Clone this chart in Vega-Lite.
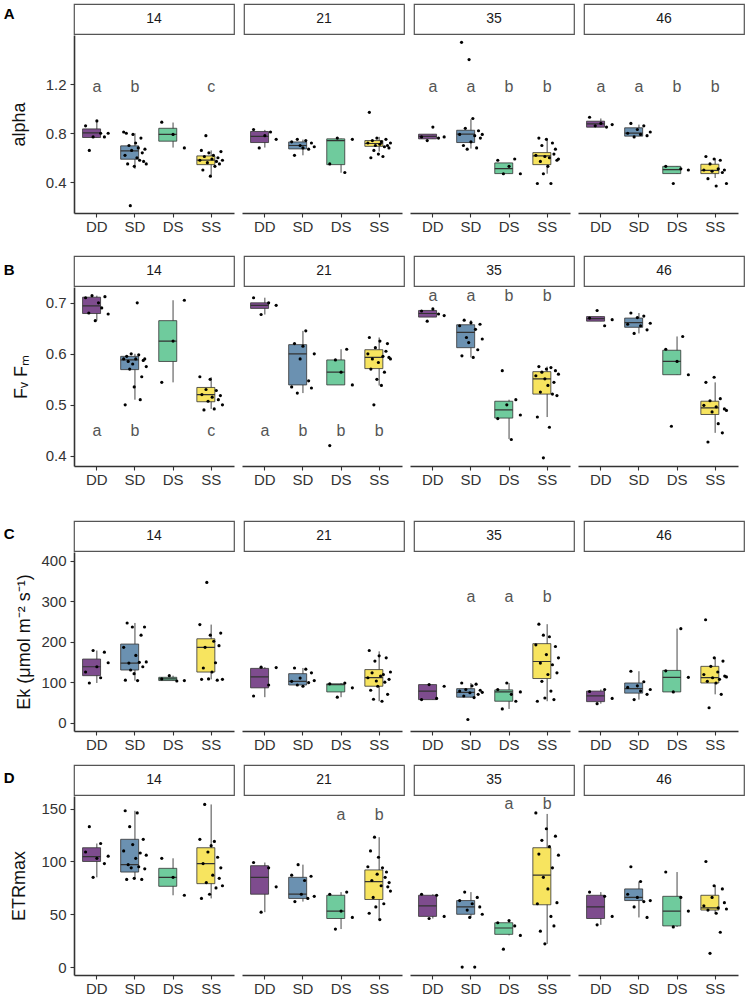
{
"$schema":"https://vega.github.io/schema/vega-lite/v6.json",
"background":"white",
"padding":{"left":3,"top":3,"right":0,"bottom":0},
"config":{"font":"Liberation Sans","view":{"stroke":null},
"axis":{"grid":false,"domainColor":"#333","domainWidth":1.6,"tickColor":"#333","tickSize":4,"tickWidth":1.1,"labelColor":"#333","labelFontSize":15,"labelPadding":4,"titleFontSize":18,"titleFontWeight":"normal","titleColor":"#111"},
"axisX":{"labelPadding":2}},
"datasets":{"d":[
{"p":"A","d":"14","t":"DD","lo":0.765,"q1":0.765,"m":0.803,"q3":0.835,"hi":0.898},
{"p":"A","d":"14","t":"SD","lo":0.51,"q1":0.588,"m":0.656,"q3":0.697,"hi":0.8},
{"p":"A","d":"14","t":"DS","lo":0.683,"q1":0.735,"m":0.79,"q3":0.84,"hi":0.887},
{"p":"A","d":"14","t":"SS","lo":0.457,"q1":0.544,"m":0.58,"q3":0.615,"hi":0.66},
{"p":"A","d":"21","t":"DD","lo":0.683,"q1":0.724,"m":0.775,"q3":0.814,"hi":0.827},
{"p":"A","d":"21","t":"SD","lo":0.62,"q1":0.672,"m":0.7,"q3":0.729,"hi":0.748},
{"p":"A","d":"21","t":"DS","lo":0.478,"q1":0.544,"m":0.74,"q3":0.754,"hi":0.756},
{"p":"A","d":"21","t":"SS","lo":0.65,"q1":0.693,"m":0.716,"q3":0.74,"hi":0.77},
{"p":"A","d":"35","t":"DD","lo":0.754,"q1":0.754,"m":0.775,"q3":0.792,"hi":0.792},
{"p":"A","d":"35","t":"SD","lo":0.675,"q1":0.724,"m":0.792,"q3":0.824,"hi":0.914},
{"p":"A","d":"35","t":"DS","lo":0.471,"q1":0.471,"m":0.512,"q3":0.558,"hi":0.558},
{"p":"A","d":"35","t":"SS","lo":0.47,"q1":0.544,"m":0.615,"q3":0.642,"hi":0.756},
{"p":"A","d":"46","t":"DD","lo":0.849,"q1":0.849,"m":0.876,"q3":0.898,"hi":0.92},
{"p":"A","d":"46","t":"SD","lo":0.776,"q1":0.776,"m":0.8,"q3":0.844,"hi":0.87},
{"p":"A","d":"46","t":"DS","lo":0.471,"q1":0.471,"m":0.504,"q3":0.53,"hi":0.53},
{"p":"A","d":"46","t":"SS","lo":0.435,"q1":0.471,"m":0.498,"q3":0.547,"hi":0.593},
{"p":"B","d":"14","t":"DD","lo":0.665,"q1":0.679,"m":0.694,"q3":0.711,"hi":0.714},
{"p":"B","d":"14","t":"SD","lo":0.51,"q1":0.569,"m":0.588,"q3":0.595,"hi":0.6},
{"p":"B","d":"14","t":"DS","lo":0.544,"q1":0.585,"m":0.625,"q3":0.665,"hi":0.705},
{"p":"B","d":"14","t":"SS","lo":0.492,"q1":0.506,"m":0.52,"q3":0.534,"hi":0.554},
{"p":"B","d":"21","t":"DD","lo":0.677,"q1":0.689,"m":0.695,"q3":0.7,"hi":0.71},
{"p":"B","d":"21","t":"SD","lo":0.523,"q1":0.539,"m":0.6,"q3":0.618,"hi":0.645},
{"p":"B","d":"21","t":"DS","lo":0.539,"q1":0.539,"m":0.564,"q3":0.588,"hi":0.609},
{"p":"B","d":"21","t":"SS","lo":0.538,"q1":0.571,"m":0.593,"q3":0.608,"hi":0.632},
{"p":"B","d":"35","t":"DD","lo":0.672,"q1":0.672,"m":0.679,"q3":0.685,"hi":0.688},
{"p":"B","d":"35","t":"SD","lo":0.593,"q1":0.612,"m":0.642,"q3":0.657,"hi":0.666},
{"p":"B","d":"35","t":"DS","lo":0.433,"q1":0.474,"m":0.49,"q3":0.507,"hi":0.51},
{"p":"B","d":"35","t":"SS","lo":0.476,"q1":0.521,"m":0.551,"q3":0.565,"hi":0.575},
{"p":"B","d":"46","t":"DD","lo":0.664,"q1":0.664,"m":0.669,"q3":0.673,"hi":0.673},
{"p":"B","d":"46","t":"SD","lo":0.64,"q1":0.652,"m":0.661,"q3":0.67,"hi":0.68},
{"p":"B","d":"46","t":"DS","lo":0.559,"q1":0.559,"m":0.585,"q3":0.607,"hi":0.634},
{"p":"B","d":"46","t":"SS","lo":0.445,"q1":0.481,"m":0.494,"q3":0.507,"hi":0.544},
{"p":"C","d":"14","t":"DD","lo":98,"q1":116,"m":138,"q3":157,"hi":178},
{"p":"C","d":"14","t":"SD","lo":104,"q1":130,"m":147,"q3":194,"hi":246},
{"p":"C","d":"14","t":"DS","lo":103,"q1":104,"m":108,"q3":112,"hi":116},
{"p":"C","d":"14","t":"SS","lo":107,"q1":125,"m":186,"q3":207,"hi":242},
{"p":"C","d":"21","t":"DD","lo":63,"q1":86,"m":113,"q3":134,"hi":137},
{"p":"C","d":"21","t":"SD","lo":90,"q1":93,"m":102,"q3":121,"hi":135},
{"p":"C","d":"21","t":"DS","lo":63,"q1":76,"m":94,"q3":96,"hi":98},
{"p":"C","d":"21","t":"SS","lo":53,"q1":90,"m":111,"q3":131,"hi":176},
{"p":"C","d":"35","t":"DD","lo":57,"q1":57,"m":78,"q3":94,"hi":94},
{"p":"C","d":"35","t":"SD","lo":62,"q1":63,"m":75,"q3":84,"hi":98},
{"p":"C","d":"35","t":"DS","lo":34,"q1":53,"m":76,"q3":81,"hi":98},
{"p":"C","d":"35","t":"SS","lo":53,"q1":109,"m":151,"q3":195,"hi":243},
{"p":"C","d":"46","t":"DD","lo":47,"q1":52,"m":66,"q3":78,"hi":82},
{"p":"C","d":"46","t":"SD","lo":57,"q1":73,"m":84,"q3":98,"hi":127},
{"p":"C","d":"46","t":"DS","lo":76,"q1":76,"m":112,"q3":129,"hi":232},
{"p":"C","d":"46","t":"SS","lo":70,"q1":98,"m":111,"q3":139,"hi":160},
{"p":"D","d":"14","t":"DD","lo":85,"q1":100,"m":104.5,"q3":113,"hi":117},
{"p":"D","d":"14","t":"SD","lo":83,"q1":90,"m":97,"q3":121,"hi":148},
{"p":"D","d":"14","t":"DS","lo":68,"q1":76.5,"m":85,"q3":93.5,"hi":103},
{"p":"D","d":"14","t":"SS","lo":65,"q1":79,"m":98,"q3":113,"hi":154},
{"p":"D","d":"21","t":"DD","lo":52,"q1":69,"m":85,"q3":96,"hi":99},
{"p":"D","d":"21","t":"SD","lo":62,"q1":65,"m":69,"q3":85,"hi":97},
{"p":"D","d":"21","t":"DS","lo":36,"q1":46,"m":53,"q3":68,"hi":71},
{"p":"D","d":"21","t":"SS","lo":45,"q1":64,"m":81,"q3":92,"hi":123},
{"p":"D","d":"35","t":"DD","lo":46,"q1":48,"m":58,"q3":68,"hi":69},
{"p":"D","d":"35","t":"SD","lo":47,"q1":50,"m":57,"q3":63,"hi":71},
{"p":"D","d":"35","t":"DS","lo":30,"q1":31,"m":37,"q3":42,"hi":44},
{"p":"D","d":"35","t":"SS","lo":22,"q1":59,"m":87,"q3":113,"hi":145},
{"p":"D","d":"46","t":"DD","lo":40,"q1":46,"m":57,"q3":68,"hi":71},
{"p":"D","d":"46","t":"SD","lo":47,"q1":63,"m":66,"q3":74,"hi":81},
{"p":"D","d":"46","t":"DS","lo":38,"q1":39,"m":53,"q3":67,"hi":90},
{"p":"D","d":"46","t":"SS","lo":51,"q1":54,"m":56,"q3":68,"hi":77},
{"p":"A","d":"14","t":"DD","lab":"a"},{"p":"A","d":"14","t":"SD","lab":"b"},{"p":"A","d":"14","t":"SS","lab":"c"},
{"p":"A","d":"35","t":"DD","lab":"a"},{"p":"A","d":"35","t":"SD","lab":"a"},{"p":"A","d":"35","t":"DS","lab":"b"},{"p":"A","d":"35","t":"SS","lab":"b"},
{"p":"A","d":"46","t":"DD","lab":"a"},{"p":"A","d":"46","t":"SD","lab":"a"},{"p":"A","d":"46","t":"DS","lab":"b"},{"p":"A","d":"46","t":"SS","lab":"b"},
{"p":"B","d":"14","t":"DD","lab":"a"},{"p":"B","d":"14","t":"SD","lab":"b"},{"p":"B","d":"14","t":"SS","lab":"c"},
{"p":"B","d":"21","t":"DD","lab":"a"},{"p":"B","d":"21","t":"SD","lab":"b"},{"p":"B","d":"21","t":"DS","lab":"b"},{"p":"B","d":"21","t":"SS","lab":"b"},
{"p":"B","d":"35","t":"DD","lab":"a"},{"p":"B","d":"35","t":"SD","lab":"a"},{"p":"B","d":"35","t":"DS","lab":"b"},{"p":"B","d":"35","t":"SS","lab":"b"},
{"p":"C","d":"35","t":"SD","lab":"a"},{"p":"C","d":"35","t":"DS","lab":"a"},{"p":"C","d":"35","t":"SS","lab":"b"},
{"p":"D","d":"21","t":"DS","lab":"a"},{"p":"D","d":"21","t":"SS","lab":"b"},
{"p":"D","d":"35","t":"DS","lab":"a"},{"p":"D","d":"35","t":"SS","lab":"b"},
{"p":"A","d":"14","t":"DD","v":0.86},{"p":"A","d":"14","t":"DD","v":0.66},{"p":"A","d":"14","t":"DD","v":0.77},{"p":"A","d":"14","t":"DD","v":0.9},{"p":"A","d":"14","t":"DD","v":0.8},{"p":"A","d":"14","t":"DD","v":0.77},{"p":"A","d":"14","t":"DD","v":0.8},
{"p":"A","d":"14","t":"SD","v":0.81},{"p":"A","d":"14","t":"SD","v":0.62},{"p":"A","d":"14","t":"SD","v":0.8},{"p":"A","d":"14","t":"SD","v":0.55},{"p":"A","d":"14","t":"SD","v":0.7},{"p":"A","d":"14","t":"SD","v":0.21},{"p":"A","d":"14","t":"SD","v":0.66},{"p":"A","d":"14","t":"SD","v":0.79},{"p":"A","d":"14","t":"SD","v":0.53},{"p":"A","d":"14","t":"SD","v":0.72},{"p":"A","d":"14","t":"SD","v":0.6},{"p":"A","d":"14","t":"SD","v":0.68},{"p":"A","d":"14","t":"SD","v":0.58},{"p":"A","d":"14","t":"SD","v":0.76},{"p":"A","d":"14","t":"SD","v":0.64},{"p":"A","d":"14","t":"SD","v":0.57},{"p":"A","d":"14","t":"SD","v":0.67},{"p":"A","d":"14","t":"SD","v":0.55},
{"p":"A","d":"14","t":"DS","v":0.89},{"p":"A","d":"14","t":"DS","v":0.79},{"p":"A","d":"14","t":"DS","v":0.68},
{"p":"A","d":"14","t":"SS","v":0.58},{"p":"A","d":"14","t":"SS","v":0.66},{"p":"A","d":"14","t":"SS","v":0.5},{"p":"A","d":"14","t":"SS","v":0.61},{"p":"A","d":"14","t":"SS","v":0.78},{"p":"A","d":"14","t":"SS","v":0.56},{"p":"A","d":"14","t":"SS","v":0.64},{"p":"A","d":"14","t":"SS","v":0.45},{"p":"A","d":"14","t":"SS","v":0.59},{"p":"A","d":"14","t":"SS","v":0.62},{"p":"A","d":"14","t":"SS","v":0.53},{"p":"A","d":"14","t":"SS","v":0.57},{"p":"A","d":"14","t":"SS","v":0.6},{"p":"A","d":"14","t":"SS","v":0.55},{"p":"A","d":"14","t":"SS","v":0.65},{"p":"A","d":"14","t":"SS","v":0.58},
{"p":"A","d":"21","t":"DD","v":0.83},{"p":"A","d":"21","t":"DD","v":0.68},{"p":"A","d":"21","t":"DD","v":0.78},{"p":"A","d":"21","t":"DD","v":0.81},{"p":"A","d":"21","t":"DD","v":0.75},
{"p":"A","d":"21","t":"SD","v":0.73},{"p":"A","d":"21","t":"SD","v":0.62},{"p":"A","d":"21","t":"SD","v":0.75},{"p":"A","d":"21","t":"SD","v":0.7},{"p":"A","d":"21","t":"SD","v":0.68},{"p":"A","d":"21","t":"SD","v":0.74},{"p":"A","d":"21","t":"SD","v":0.67},{"p":"A","d":"21","t":"SD","v":0.72},{"p":"A","d":"21","t":"SD","v":0.69},
{"p":"A","d":"21","t":"DS","v":0.55},{"p":"A","d":"21","t":"DS","v":0.76},{"p":"A","d":"21","t":"DS","v":0.48},{"p":"A","d":"21","t":"DS","v":0.75},
{"p":"A","d":"21","t":"SS","v":0.72},{"p":"A","d":"21","t":"SS","v":0.97},{"p":"A","d":"21","t":"SS","v":0.6},{"p":"A","d":"21","t":"SS","v":0.74},{"p":"A","d":"21","t":"SS","v":0.66},{"p":"A","d":"21","t":"SS","v":0.7},{"p":"A","d":"21","t":"SS","v":0.76},{"p":"A","d":"21","t":"SS","v":0.63},{"p":"A","d":"21","t":"SS","v":0.71},{"p":"A","d":"21","t":"SS","v":0.73},{"p":"A","d":"21","t":"SS","v":0.61},{"p":"A","d":"21","t":"SS","v":0.69},{"p":"A","d":"21","t":"SS","v":0.75},{"p":"A","d":"21","t":"SS","v":0.7},{"p":"A","d":"21","t":"SS","v":0.68},{"p":"A","d":"21","t":"SS","v":0.72},
{"p":"A","d":"35","t":"DD","v":0.77},{"p":"A","d":"35","t":"DD","v":0.74},{"p":"A","d":"35","t":"DD","v":0.85},{"p":"A","d":"35","t":"DD","v":0.76},{"p":"A","d":"35","t":"DD","v":0.77},
{"p":"A","d":"35","t":"SD","v":0.79},{"p":"A","d":"35","t":"SD","v":1.54},{"p":"A","d":"35","t":"SD","v":0.7},{"p":"A","d":"35","t":"SD","v":0.84},{"p":"A","d":"35","t":"SD","v":0.67},{"p":"A","d":"35","t":"SD","v":1.4},{"p":"A","d":"35","t":"SD","v":0.73},{"p":"A","d":"35","t":"SD","v":0.92},{"p":"A","d":"35","t":"SD","v":0.78},{"p":"A","d":"35","t":"SD","v":0.68},{"p":"A","d":"35","t":"SD","v":0.82},{"p":"A","d":"35","t":"SD","v":0.76},{"p":"A","d":"35","t":"SD","v":0.79},
{"p":"A","d":"35","t":"DS","v":0.58},{"p":"A","d":"35","t":"DS","v":0.47},{"p":"A","d":"35","t":"DS","v":0.53},{"p":"A","d":"35","t":"DS","v":0.59},{"p":"A","d":"35","t":"DS","v":0.47},
{"p":"A","d":"35","t":"SS","v":0.62},{"p":"A","d":"35","t":"SS","v":0.39},{"p":"A","d":"35","t":"SS","v":0.76},{"p":"A","d":"35","t":"SS","v":0.57},{"p":"A","d":"35","t":"SS","v":0.7},{"p":"A","d":"35","t":"SS","v":0.47},{"p":"A","d":"35","t":"SS","v":0.61},{"p":"A","d":"35","t":"SS","v":0.75},{"p":"A","d":"35","t":"SS","v":0.53},{"p":"A","d":"35","t":"SS","v":0.6},{"p":"A","d":"35","t":"SS","v":0.39},{"p":"A","d":"35","t":"SS","v":0.72},{"p":"A","d":"35","t":"SS","v":0.63},{"p":"A","d":"35","t":"SS","v":0.67},{"p":"A","d":"35","t":"SS","v":0.58},{"p":"A","d":"35","t":"SS","v":0.59},
{"p":"A","d":"46","t":"DD","v":0.93},{"p":"A","d":"46","t":"DD","v":0.86},{"p":"A","d":"46","t":"DD","v":0.88},{"p":"A","d":"46","t":"DD","v":0.85},{"p":"A","d":"46","t":"DD","v":0.87},
{"p":"A","d":"46","t":"SD","v":0.8},{"p":"A","d":"46","t":"SD","v":0.88},{"p":"A","d":"46","t":"SD","v":0.77},{"p":"A","d":"46","t":"SD","v":0.83},{"p":"A","d":"46","t":"SD","v":0.79},{"p":"A","d":"46","t":"SD","v":0.86},{"p":"A","d":"46","t":"SD","v":0.78},{"p":"A","d":"46","t":"SD","v":0.81},
{"p":"A","d":"46","t":"DS","v":0.53},{"p":"A","d":"46","t":"DS","v":0.39},{"p":"A","d":"46","t":"DS","v":0.51},{"p":"A","d":"46","t":"DS","v":0.5},
{"p":"A","d":"46","t":"SS","v":0.5},{"p":"A","d":"46","t":"SS","v":0.61},{"p":"A","d":"46","t":"SS","v":0.43},{"p":"A","d":"46","t":"SS","v":0.55},{"p":"A","d":"46","t":"SS","v":0.49},{"p":"A","d":"46","t":"SS","v":0.59},{"p":"A","d":"46","t":"SS","v":0.37},{"p":"A","d":"46","t":"SS","v":0.51},{"p":"A","d":"46","t":"SS","v":0.58},{"p":"A","d":"46","t":"SS","v":0.48},{"p":"A","d":"46","t":"SS","v":0.5},{"p":"A","d":"46","t":"SS","v":0.39},
{"p":"B","d":"14","t":"DD","v":0.71},{"p":"B","d":"14","t":"DD","v":0.68},{"p":"B","d":"14","t":"DD","v":0.714},{"p":"B","d":"14","t":"DD","v":0.665},{"p":"B","d":"14","t":"DD","v":0.7},{"p":"B","d":"14","t":"DD","v":0.69},{"p":"B","d":"14","t":"DD","v":0.712},{"p":"B","d":"14","t":"DD","v":0.678},
{"p":"B","d":"14","t":"SD","v":0.59},{"p":"B","d":"14","t":"SD","v":0.5},{"p":"B","d":"14","t":"SD","v":0.595},{"p":"B","d":"14","t":"SD","v":0.585},{"p":"B","d":"14","t":"SD","v":0.57},{"p":"B","d":"14","t":"SD","v":0.6},{"p":"B","d":"14","t":"SD","v":0.58},{"p":"B","d":"14","t":"SD","v":0.535},{"p":"B","d":"14","t":"SD","v":0.59},{"p":"B","d":"14","t":"SD","v":0.7},{"p":"B","d":"14","t":"SD","v":0.598},{"p":"B","d":"14","t":"SD","v":0.51},{"p":"B","d":"14","t":"SD","v":0.555},{"p":"B","d":"14","t":"SD","v":0.587},{"p":"B","d":"14","t":"SD","v":0.59},{"p":"B","d":"14","t":"SD","v":0.575},
{"p":"B","d":"14","t":"DS","v":0.544},{"p":"B","d":"14","t":"DS","v":0.625},{"p":"B","d":"14","t":"DS","v":0.705},
{"p":"B","d":"14","t":"SS","v":0.555},{"p":"B","d":"14","t":"SS","v":0.52},{"p":"B","d":"14","t":"SS","v":0.49},{"p":"B","d":"14","t":"SS","v":0.53},{"p":"B","d":"14","t":"SS","v":0.507},{"p":"B","d":"14","t":"SS","v":0.55},{"p":"B","d":"14","t":"SS","v":0.515},{"p":"B","d":"14","t":"SS","v":0.492},{"p":"B","d":"14","t":"SS","v":0.528},{"p":"B","d":"14","t":"SS","v":0.51},{"p":"B","d":"14","t":"SS","v":0.518},{"p":"B","d":"14","t":"SS","v":0.5},
{"p":"B","d":"21","t":"DD","v":0.71},{"p":"B","d":"21","t":"DD","v":0.677},{"p":"B","d":"21","t":"DD","v":0.7},{"p":"B","d":"21","t":"DD","v":0.695},
{"p":"B","d":"21","t":"SD","v":0.535},{"p":"B","d":"21","t":"SD","v":0.62},{"p":"B","d":"21","t":"SD","v":0.523},{"p":"B","d":"21","t":"SD","v":0.59},{"p":"B","d":"21","t":"SD","v":0.615},{"p":"B","d":"21","t":"SD","v":0.645},{"p":"B","d":"21","t":"SD","v":0.547},{"p":"B","d":"21","t":"SD","v":0.533},{"p":"B","d":"21","t":"SD","v":0.6},
{"p":"B","d":"21","t":"DS","v":0.42},{"p":"B","d":"21","t":"DS","v":0.588},{"p":"B","d":"21","t":"DS","v":0.564},{"p":"B","d":"21","t":"DS","v":0.609},{"p":"B","d":"21","t":"DS","v":0.539},
{"p":"B","d":"21","t":"SS","v":0.6},{"p":"B","d":"21","t":"SS","v":0.632},{"p":"B","d":"21","t":"SS","v":0.57},{"p":"B","d":"21","t":"SS","v":0.59},{"p":"B","d":"21","t":"SS","v":0.5},{"p":"B","d":"21","t":"SS","v":0.612},{"p":"B","d":"21","t":"SS","v":0.55},{"p":"B","d":"21","t":"SS","v":0.583},{"p":"B","d":"21","t":"SS","v":0.625},{"p":"B","d":"21","t":"SS","v":0.538},{"p":"B","d":"21","t":"SS","v":0.595},{"p":"B","d":"21","t":"SS","v":0.564},{"p":"B","d":"21","t":"SS","v":0.605},{"p":"B","d":"21","t":"SS","v":0.62},{"p":"B","d":"21","t":"SS","v":0.593},{"p":"B","d":"21","t":"SS","v":0.59},
{"p":"B","d":"35","t":"DD","v":0.684},{"p":"B","d":"35","t":"DD","v":0.664},{"p":"B","d":"35","t":"DD","v":0.688},{"p":"B","d":"35","t":"DD","v":0.678},{"p":"B","d":"35","t":"DD","v":0.675},
{"p":"B","d":"35","t":"SD","v":0.655},{"p":"B","d":"35","t":"SD","v":0.596},{"p":"B","d":"35","t":"SD","v":0.666},{"p":"B","d":"35","t":"SD","v":0.632},{"p":"B","d":"35","t":"SD","v":0.622},{"p":"B","d":"35","t":"SD","v":0.661},{"p":"B","d":"35","t":"SD","v":0.593},{"p":"B","d":"35","t":"SD","v":0.648},{"p":"B","d":"35","t":"SD","v":0.608},{"p":"B","d":"35","t":"SD","v":0.658},{"p":"B","d":"35","t":"SD","v":0.629},
{"p":"B","d":"35","t":"DS","v":0.473},{"p":"B","d":"35","t":"DS","v":0.567},{"p":"B","d":"35","t":"DS","v":0.5},{"p":"B","d":"35","t":"DS","v":0.432},{"p":"B","d":"35","t":"DS","v":0.51},{"p":"B","d":"35","t":"DS","v":0.48},
{"p":"B","d":"35","t":"SS","v":0.557},{"p":"B","d":"35","t":"SS","v":0.476},{"p":"B","d":"35","t":"SS","v":0.575},{"p":"B","d":"35","t":"SS","v":0.525},{"p":"B","d":"35","t":"SS","v":0.564},{"p":"B","d":"35","t":"SS","v":0.396},{"p":"B","d":"35","t":"SS","v":0.551},{"p":"B","d":"35","t":"SS","v":0.57},{"p":"B","d":"35","t":"SS","v":0.538},{"p":"B","d":"35","t":"SS","v":0.456},{"p":"B","d":"35","t":"SS","v":0.573},{"p":"B","d":"35","t":"SS","v":0.521},{"p":"B","d":"35","t":"SS","v":0.544},{"p":"B","d":"35","t":"SS","v":0.567},{"p":"B","d":"35","t":"SS","v":0.518},{"p":"B","d":"35","t":"SS","v":0.56},
{"p":"B","d":"46","t":"DD","v":0.67},{"p":"B","d":"46","t":"DD","v":0.685},{"p":"B","d":"46","t":"DD","v":0.655},{"p":"B","d":"46","t":"DD","v":0.667},
{"p":"B","d":"46","t":"SD","v":0.658},{"p":"B","d":"46","t":"SD","v":0.68},{"p":"B","d":"46","t":"SD","v":0.64},{"p":"B","d":"46","t":"SD","v":0.671},{"p":"B","d":"46","t":"SD","v":0.655},{"p":"B","d":"46","t":"SD","v":0.674},{"p":"B","d":"46","t":"SD","v":0.647},{"p":"B","d":"46","t":"SD","v":0.66},
{"p":"B","d":"46","t":"DS","v":0.609},{"p":"B","d":"46","t":"DS","v":0.458},{"p":"B","d":"46","t":"DS","v":0.585},{"p":"B","d":"46","t":"DS","v":0.634},{"p":"B","d":"46","t":"DS","v":0.559},
{"p":"B","d":"46","t":"SS","v":0.499},{"p":"B","d":"46","t":"SS","v":0.544},{"p":"B","d":"46","t":"SS","v":0.427},{"p":"B","d":"46","t":"SS","v":0.508},{"p":"B","d":"46","t":"SS","v":0.486},{"p":"B","d":"46","t":"SS","v":0.554},{"p":"B","d":"46","t":"SS","v":0.496},{"p":"B","d":"46","t":"SS","v":0.463},{"p":"B","d":"46","t":"SS","v":0.512},{"p":"B","d":"46","t":"SS","v":0.445},{"p":"B","d":"46","t":"SS","v":0.492},{"p":"B","d":"46","t":"SS","v":0.489},
{"p":"C","d":"14","t":"DD","v":125},{"p":"C","d":"14","t":"DD","v":98},{"p":"C","d":"14","t":"DD","v":178},{"p":"C","d":"14","t":"DD","v":138},{"p":"C","d":"14","t":"DD","v":111},{"p":"C","d":"14","t":"DD","v":174},{"p":"C","d":"14","t":"DD","v":148},
{"p":"C","d":"14","t":"SD","v":186},{"p":"C","d":"14","t":"SD","v":105},{"p":"C","d":"14","t":"SD","v":246},{"p":"C","d":"14","t":"SD","v":147},{"p":"C","d":"14","t":"SD","v":130},{"p":"C","d":"14","t":"SD","v":236},{"p":"C","d":"14","t":"SD","v":121},{"p":"C","d":"14","t":"SD","v":166},{"p":"C","d":"14","t":"SD","v":104},{"p":"C","d":"14","t":"SD","v":149},{"p":"C","d":"14","t":"SD","v":216},{"p":"C","d":"14","t":"SD","v":138},{"p":"C","d":"14","t":"SD","v":236},{"p":"C","d":"14","t":"SD","v":150},
{"p":"C","d":"14","t":"DS","v":108},{"p":"C","d":"14","t":"DS","v":116},{"p":"C","d":"14","t":"DS","v":103},{"p":"C","d":"14","t":"DS","v":104},
{"p":"C","d":"14","t":"SS","v":242},{"p":"C","d":"14","t":"SS","v":107},{"p":"C","d":"14","t":"SS","v":135},{"p":"C","d":"14","t":"SS","v":186},{"p":"C","d":"14","t":"SS","v":346},{"p":"C","d":"14","t":"SS","v":108},{"p":"C","d":"14","t":"SS","v":216},{"p":"C","d":"14","t":"SS","v":125},{"p":"C","d":"14","t":"SS","v":201},{"p":"C","d":"14","t":"SS","v":148},{"p":"C","d":"14","t":"SS","v":105},{"p":"C","d":"14","t":"SS","v":190},{"p":"C","d":"14","t":"SS","v":221},{"p":"C","d":"14","t":"SS","v":107},
{"p":"C","d":"21","t":"DD","v":66},{"p":"C","d":"21","t":"DD","v":137},{"p":"C","d":"21","t":"DD","v":93},{"p":"C","d":"21","t":"DD","v":136},
{"p":"C","d":"21","t":"SD","v":102},{"p":"C","d":"21","t":"SD","v":135},{"p":"C","d":"21","t":"SD","v":93},{"p":"C","d":"21","t":"SD","v":110},{"p":"C","d":"21","t":"SD","v":90},{"p":"C","d":"21","t":"SD","v":132},{"p":"C","d":"21","t":"SD","v":99},{"p":"C","d":"21","t":"SD","v":123},{"p":"C","d":"21","t":"SD","v":104},
{"p":"C","d":"21","t":"DS","v":96},{"p":"C","d":"21","t":"DS","v":63},{"p":"C","d":"21","t":"DS","v":98},{"p":"C","d":"21","t":"DS","v":86},
{"p":"C","d":"21","t":"SS","v":111},{"p":"C","d":"21","t":"SS","v":178},{"p":"C","d":"21","t":"SS","v":80},{"p":"C","d":"21","t":"SS","v":123},{"p":"C","d":"21","t":"SS","v":58},{"p":"C","d":"21","t":"SS","v":152},{"p":"C","d":"21","t":"SS","v":103},{"p":"C","d":"21","t":"SS","v":90},{"p":"C","d":"21","t":"SS","v":165},{"p":"C","d":"21","t":"SS","v":115},{"p":"C","d":"21","t":"SS","v":53},{"p":"C","d":"21","t":"SS","v":119},{"p":"C","d":"21","t":"SS","v":100},{"p":"C","d":"21","t":"SS","v":160},{"p":"C","d":"21","t":"SS","v":70},{"p":"C","d":"21","t":"SS","v":107},{"p":"C","d":"21","t":"SS","v":125},
{"p":"C","d":"35","t":"DD","v":57},{"p":"C","d":"35","t":"DD","v":94},{"p":"C","d":"35","t":"DD","v":60},{"p":"C","d":"35","t":"DD","v":90},
{"p":"C","d":"35","t":"SD","v":78},{"p":"C","d":"35","t":"SD","v":98},{"p":"C","d":"35","t":"SD","v":66},{"p":"C","d":"35","t":"SD","v":82},{"p":"C","d":"35","t":"SD","v":8},{"p":"C","d":"35","t":"SD","v":74},{"p":"C","d":"35","t":"SD","v":91},{"p":"C","d":"35","t":"SD","v":62},{"p":"C","d":"35","t":"SD","v":95},{"p":"C","d":"35","t":"SD","v":70},{"p":"C","d":"35","t":"SD","v":80},{"p":"C","d":"35","t":"SD","v":75},
{"p":"C","d":"35","t":"DS","v":82},{"p":"C","d":"35","t":"DS","v":34},{"p":"C","d":"35","t":"DS","v":98},{"p":"C","d":"35","t":"DS","v":70},{"p":"C","d":"35","t":"DS","v":53},{"p":"C","d":"35","t":"DS","v":76},
{"p":"C","d":"35","t":"SS","v":192},{"p":"C","d":"35","t":"SS","v":53},{"p":"C","d":"35","t":"SS","v":243},{"p":"C","d":"35","t":"SS","v":147},{"p":"C","d":"35","t":"SS","v":102},{"p":"C","d":"35","t":"SS","v":216},{"p":"C","d":"35","t":"SS","v":61},{"p":"C","d":"35","t":"SS","v":168},{"p":"C","d":"35","t":"SS","v":119},{"p":"C","d":"35","t":"SS","v":212},{"p":"C","d":"35","t":"SS","v":78},{"p":"C","d":"35","t":"SS","v":143},{"p":"C","d":"35","t":"SS","v":57},{"p":"C","d":"35","t":"SS","v":188},{"p":"C","d":"35","t":"SS","v":123},{"p":"C","d":"35","t":"SS","v":160},
{"p":"C","d":"46","t":"DD","v":77},{"p":"C","d":"46","t":"DD","v":47},{"p":"C","d":"46","t":"DD","v":82},{"p":"C","d":"46","t":"DD","v":60},
{"p":"C","d":"46","t":"SD","v":87},{"p":"C","d":"46","t":"SD","v":127},{"p":"C","d":"46","t":"SD","v":57},{"p":"C","d":"46","t":"SD","v":91},{"p":"C","d":"46","t":"SD","v":78},{"p":"C","d":"46","t":"SD","v":101},{"p":"C","d":"46","t":"SD","v":70},{"p":"C","d":"46","t":"SD","v":82},
{"p":"C","d":"46","t":"DS","v":128},{"p":"C","d":"46","t":"DS","v":76},{"p":"C","d":"46","t":"DS","v":232},{"p":"C","d":"46","t":"DS","v":112},
{"p":"C","d":"46","t":"SS","v":119},{"p":"C","d":"46","t":"SS","v":254},{"p":"C","d":"46","t":"SS","v":102},{"p":"C","d":"46","t":"SS","v":37},{"p":"C","d":"46","t":"SS","v":139},{"p":"C","d":"46","t":"SS","v":111},{"p":"C","d":"46","t":"SS","v":160},{"p":"C","d":"46","t":"SS","v":98},{"p":"C","d":"46","t":"SS","v":125},{"p":"C","d":"46","t":"SS","v":107},{"p":"C","d":"46","t":"SS","v":70},{"p":"C","d":"46","t":"SS","v":152},{"p":"C","d":"46","t":"SS","v":115},{"p":"C","d":"46","t":"SS","v":113},
{"p":"D","d":"14","t":"DD","v":109},{"p":"D","d":"14","t":"DD","v":133},{"p":"D","d":"14","t":"DD","v":85},{"p":"D","d":"14","t":"DD","v":103},{"p":"D","d":"14","t":"DD","v":117},{"p":"D","d":"14","t":"DD","v":98},{"p":"D","d":"14","t":"DD","v":105},
{"p":"D","d":"14","t":"SD","v":110},{"p":"D","d":"14","t":"SD","v":148},{"p":"D","d":"14","t":"SD","v":83},{"p":"D","d":"14","t":"SD","v":97},{"p":"D","d":"14","t":"SD","v":133},{"p":"D","d":"14","t":"SD","v":94},{"p":"D","d":"14","t":"SD","v":116},{"p":"D","d":"14","t":"SD","v":84},{"p":"D","d":"14","t":"SD","v":103},{"p":"D","d":"14","t":"SD","v":146},{"p":"D","d":"14","t":"SD","v":95},{"p":"D","d":"14","t":"SD","v":108},{"p":"D","d":"14","t":"SD","v":83},{"p":"D","d":"14","t":"SD","v":121},{"p":"D","d":"14","t":"SD","v":93},{"p":"D","d":"14","t":"SD","v":106},
{"p":"D","d":"14","t":"DS","v":103},{"p":"D","d":"14","t":"DS","v":85},{"p":"D","d":"14","t":"DS","v":68},
{"p":"D","d":"14","t":"SS","v":121},{"p":"D","d":"14","t":"SS","v":65},{"p":"D","d":"14","t":"SS","v":98},{"p":"D","d":"14","t":"SS","v":154},{"p":"D","d":"14","t":"SS","v":80},{"p":"D","d":"14","t":"SS","v":109},{"p":"D","d":"14","t":"SS","v":69},{"p":"D","d":"14","t":"SS","v":115},{"p":"D","d":"14","t":"SS","v":87},{"p":"D","d":"14","t":"SS","v":119},{"p":"D","d":"14","t":"SS","v":75},{"p":"D","d":"14","t":"SS","v":104},{"p":"D","d":"14","t":"SS","v":84},{"p":"D","d":"14","t":"SS","v":94},{"p":"D","d":"14","t":"SS","v":77},
{"p":"D","d":"21","t":"DD","v":99},{"p":"D","d":"21","t":"DD","v":52},{"p":"D","d":"21","t":"DD","v":94},{"p":"D","d":"21","t":"DD","v":76},
{"p":"D","d":"21","t":"SD","v":87},{"p":"D","d":"21","t":"SD","v":62},{"p":"D","d":"21","t":"SD","v":97},{"p":"D","d":"21","t":"SD","v":69},{"p":"D","d":"21","t":"SD","v":82},{"p":"D","d":"21","t":"SD","v":65},{"p":"D","d":"21","t":"SD","v":86},{"p":"D","d":"21","t":"SD","v":67},
{"p":"D","d":"21","t":"DS","v":69},{"p":"D","d":"21","t":"DS","v":36},{"p":"D","d":"21","t":"DS","v":53},{"p":"D","d":"21","t":"DS","v":71},{"p":"D","d":"21","t":"DS","v":47},
{"p":"D","d":"21","t":"SS","v":95},{"p":"D","d":"21","t":"SS","v":51},{"p":"D","d":"21","t":"SS","v":110},{"p":"D","d":"21","t":"SS","v":82},{"p":"D","d":"21","t":"SS","v":66},{"p":"D","d":"21","t":"SS","v":123},{"p":"D","d":"21","t":"SS","v":57},{"p":"D","d":"21","t":"SS","v":88},{"p":"D","d":"21","t":"SS","v":104},{"p":"D","d":"21","t":"SS","v":45},{"p":"D","d":"21","t":"SS","v":77},{"p":"D","d":"21","t":"SS","v":94},{"p":"D","d":"21","t":"SS","v":60},{"p":"D","d":"21","t":"SS","v":85},{"p":"D","d":"21","t":"SS","v":90},{"p":"D","d":"21","t":"SS","v":76},{"p":"D","d":"21","t":"SS","v":80},{"p":"D","d":"21","t":"SS","v":72},
{"p":"D","d":"35","t":"DD","v":69},{"p":"D","d":"35","t":"DD","v":46},{"p":"D","d":"35","t":"DD","v":68},{"p":"D","d":"35","t":"DD","v":48},
{"p":"D","d":"35","t":"SD","v":63},{"p":"D","d":"35","t":"SD","v":0},{"p":"D","d":"35","t":"SD","v":71},{"p":"D","d":"35","t":"SD","v":54},{"p":"D","d":"35","t":"SD","v":47},{"p":"D","d":"35","t":"SD","v":60},{"p":"D","d":"35","t":"SD","v":0},{"p":"D","d":"35","t":"SD","v":66},{"p":"D","d":"35","t":"SD","v":57},{"p":"D","d":"35","t":"SD","v":50},
{"p":"D","d":"35","t":"DS","v":42},{"p":"D","d":"35","t":"DS","v":17},{"p":"D","d":"35","t":"DS","v":44},{"p":"D","d":"35","t":"DS","v":39},{"p":"D","d":"35","t":"DS","v":30},
{"p":"D","d":"35","t":"SS","v":146},{"p":"D","d":"35","t":"SS","v":60},{"p":"D","d":"35","t":"SS","v":107},{"p":"D","d":"35","t":"SS","v":34},{"p":"D","d":"35","t":"SS","v":120},{"p":"D","d":"35","t":"SS","v":85},{"p":"D","d":"35","t":"SS","v":22},{"p":"D","d":"35","t":"SS","v":131},{"p":"D","d":"35","t":"SS","v":74},{"p":"D","d":"35","t":"SS","v":114},{"p":"D","d":"35","t":"SS","v":48},{"p":"D","d":"35","t":"SS","v":94},{"p":"D","d":"35","t":"SS","v":39},{"p":"D","d":"35","t":"SS","v":124},{"p":"D","d":"35","t":"SS","v":61},{"p":"D","d":"35","t":"SS","v":106},
{"p":"D","d":"46","t":"DD","v":71},{"p":"D","d":"46","t":"DD","v":40},{"p":"D","d":"46","t":"DD","v":67},{"p":"D","d":"46","t":"DD","v":48},
{"p":"D","d":"46","t":"SD","v":69},{"p":"D","d":"46","t":"SD","v":95},{"p":"D","d":"46","t":"SD","v":57},{"p":"D","d":"46","t":"SD","v":66},{"p":"D","d":"46","t":"SD","v":81},{"p":"D","d":"46","t":"SD","v":62},{"p":"D","d":"46","t":"SD","v":47},{"p":"D","d":"46","t":"SD","v":63},
{"p":"D","d":"46","t":"DS","v":90},{"p":"D","d":"46","t":"DS","v":38},{"p":"D","d":"46","t":"DS","v":66},{"p":"D","d":"46","t":"DS","v":53},
{"p":"D","d":"46","t":"SS","v":58},{"p":"D","d":"46","t":"SS","v":100},{"p":"D","d":"46","t":"SS","v":54},{"p":"D","d":"46","t":"SS","v":13},{"p":"D","d":"46","t":"SS","v":66},{"p":"D","d":"46","t":"SS","v":77},{"p":"D","d":"46","t":"SS","v":51},{"p":"D","d":"46","t":"SS","v":56},{"p":"D","d":"46","t":"SS","v":33},{"p":"D","d":"46","t":"SS","v":74},{"p":"D","d":"46","t":"SS","v":61},{"p":"D","d":"46","t":"SS","v":55}
]},
"data":{"name":"d"},
"spacing":33,
"vconcat":[
{"spacing":21,"vconcat":[
{"spacing":0,
 "vconcat":[
  {"facet":{"column":{"field":"d","type":"nominal","header":null}},"spacing":8,
   "transform":[{"filter":"datum.p == 'A' && datum.t == 'DD' && isValid(datum.q1)"}],
   "spec":{"width":160,"height":30,"view":{"stroke":"#555","strokeWidth":1.2,"fill":"white"},
     "mark":{"type":"text","fontSize":14,"color":"#1a1a1a","baseline":"middle"},
     "encoding":{"text":{"field":"d","type":"nominal"},
      "y":{"datum":0.5,"type":"quantitative","scale":{"domain":[0,1]},"axis":{"title":"A","titleAngle":0,"titleFontWeight":"bold","titleFontSize":15,"titleColor":"#000","titleAlign":"right","titleBaseline":"top","titleY":2,"titlePadding":59,"labels":false,"ticks":false,"domain":false,"minExtent":0}}}}},
  {"facet":{"column":{"field":"d","type":"nominal","header":null}},"spacing":8,
   "transform":[{"filter":"datum.p == 'A'"}],
   "spec":{"width":160,"height":178,
    "layer":[
     {"transform":[{"filter":"isValid(datum.q1)"}],"mark":{"type":"rule","color":"#333","strokeWidth":0.9},
      "encoding":{"x":{"field":"t","type":"nominal","scale":{"domain":["DD","SD","DS","SS"],"paddingInner":0.25,"paddingOuter":0.225},"axis":{"title":null,"labelAngle":0}},
       "y":{"field":"lo","type":"quantitative","title":"alpha","scale":{"domain":[0.15,1.6],"nice":false,"zero":false},"axis":{"values":[0.4,0.8,1.2],"format":".1f","titlePadding":17}},
       "y2":{"field":"hi"}}},
     {"transform":[{"filter":"isValid(datum.q1)"}],"mark":{"type":"bar","stroke":"#333","strokeWidth":0.8,"opacity":1},
      "encoding":{"x":{"field":"t","type":"nominal","title":null},
       "y":{"field":"q1","type":"quantitative","title":"alpha"},"y2":{"field":"q3"},
       "color":{"field":"t","type":"nominal","scale":{"domain":["DD","SD","DS","SS"],"range":["#7E4C8E","#6B91B1","#6FCB9D","#F7E45F"]},"legend":null}}},
     {"transform":[{"filter":"isValid(datum.q1)"}],"mark":{"type":"bar","filled":false,"stroke":"#333","strokeWidth":1.2},
      "encoding":{"x":{"field":"t","type":"nominal","title":null},"y":{"field":"m","type":"quantitative","title":"alpha"},"y2":{"field":"m"}}},
     {"transform":[{"filter":"isValid(datum.v)"},{"window":[{"op":"row_number","as":"rn"}],"groupby":["d","t"]},{"window":[{"op":"percent_rank","as":"pr"}],"sort":[{"field":"rn"}],"groupby":["d","t"]}],
      "mark":{"type":"circle","color":"#000","size":10,"opacity":1},
      "encoding":{"x":{"field":"t","type":"nominal","title":null},"xOffset":{"field":"pr","type":"quantitative","scale":{"domain":[0,1],"range":[3,25.6]}},"y":{"field":"v","type":"quantitative","title":"alpha"}}},
     {"transform":[{"filter":"isValid(datum.lab)"}],"mark":{"type":"text","fontSize":16,"color":"#555","baseline":"middle"},
      "encoding":{"x":{"field":"t","type":"nominal","title":null},"y":{"datum":1.178,"type":"quantitative"},"text":{"field":"lab"}}}
    ]}}
 ]},
{"spacing":0,
 "vconcat":[
  {"facet":{"column":{"field":"d","type":"nominal","header":null}},"spacing":8,
   "transform":[{"filter":"datum.p == 'B' && datum.t == 'DD' && isValid(datum.q1)"}],
   "spec":{"width":160,"height":30,"view":{"stroke":"#555","strokeWidth":1.2,"fill":"white"},
     "mark":{"type":"text","fontSize":14,"color":"#1a1a1a","baseline":"middle"},
     "encoding":{"text":{"field":"d","type":"nominal"},
      "y":{"datum":0.5,"type":"quantitative","scale":{"domain":[0,1]},"axis":{"title":"B","titleAngle":0,"titleFontWeight":"bold","titleFontSize":15,"titleColor":"#000","titleAlign":"right","titleBaseline":"top","titleY":6,"titlePadding":59,"labels":false,"ticks":false,"domain":false,"minExtent":0}}}}},
  {"facet":{"column":{"field":"d","type":"nominal","header":null}},"spacing":8,
   "transform":[{"filter":"datum.p == 'B'"}],
   "spec":{"width":160,"height":179,
    "layer":[
     {"transform":[{"filter":"isValid(datum.q1)"}],"mark":{"type":"rule","color":"#333","strokeWidth":0.9},
      "encoding":{"x":{"field":"t","type":"nominal","scale":{"domain":["DD","SD","DS","SS"],"paddingInner":0.25,"paddingOuter":0.225},"axis":{"title":null,"labelAngle":0}},
       "y":{"field":"lo","type":"quantitative","title":"Fᵥ Fₘ","scale":{"domain":[0.38,0.731],"nice":false,"zero":false},"axis":{"values":[0.4,0.5,0.6,0.7],"format":".1f","titlePadding":15}},
       "y2":{"field":"hi"}}},
     {"transform":[{"filter":"isValid(datum.q1)"}],"mark":{"type":"bar","stroke":"#333","strokeWidth":0.8,"opacity":1},
      "encoding":{"x":{"field":"t","type":"nominal","title":null},
       "y":{"field":"q1","type":"quantitative","title":"Fᵥ Fₘ"},"y2":{"field":"q3"},
       "color":{"field":"t","type":"nominal","scale":{"domain":["DD","SD","DS","SS"],"range":["#7E4C8E","#6B91B1","#6FCB9D","#F7E45F"]},"legend":null}}},
     {"transform":[{"filter":"isValid(datum.q1)"}],"mark":{"type":"bar","filled":false,"stroke":"#333","strokeWidth":1.2},
      "encoding":{"x":{"field":"t","type":"nominal","title":null},"y":{"field":"m","type":"quantitative","title":"Fᵥ Fₘ"},"y2":{"field":"m"}}},
     {"transform":[{"filter":"isValid(datum.v)"},{"window":[{"op":"row_number","as":"rn"}],"groupby":["d","t"]},{"window":[{"op":"percent_rank","as":"pr"}],"sort":[{"field":"rn"}],"groupby":["d","t"]}],
      "mark":{"type":"circle","color":"#000","size":10,"opacity":1},
      "encoding":{"x":{"field":"t","type":"nominal","title":null},"xOffset":{"field":"pr","type":"quantitative","scale":{"domain":[0,1],"range":[3,25.6]}},"y":{"field":"v","type":"quantitative","title":"Fᵥ Fₘ"}}},
     {"transform":[{"filter":"isValid(datum.lab) && datum.d != '35'"}],"mark":{"type":"text","fontSize":16,"color":"#555","baseline":"middle"},
      "encoding":{"x":{"field":"t","type":"nominal","title":null},"y":{"datum":0.449,"type":"quantitative"},"text":{"field":"lab"}}},
     {"transform":[{"filter":"isValid(datum.lab) && datum.d == '35'"}],"mark":{"type":"text","fontSize":16,"color":"#555","baseline":"middle"},
      "encoding":{"x":{"field":"t","type":"nominal","title":null},"y":{"datum":0.713,"type":"quantitative"},"text":{"field":"lab"}}}
    ]}}
 ]}
]},
{"spacing":12,"vconcat":[
{"spacing":0,
 "vconcat":[
  {"facet":{"column":{"field":"d","type":"nominal","header":null}},"spacing":8,
   "transform":[{"filter":"datum.p == 'C' && datum.t == 'DD' && isValid(datum.q1)"}],
   "spec":{"width":160,"height":30,"view":{"stroke":"#555","strokeWidth":1.2,"fill":"white"},
     "mark":{"type":"text","fontSize":14,"color":"#1a1a1a","baseline":"middle"},
     "encoding":{"text":{"field":"d","type":"nominal"},
      "y":{"datum":0.5,"type":"quantitative","scale":{"domain":[0,1]},"axis":{"title":"C","titleAngle":0,"titleFontWeight":"bold","titleFontSize":15,"titleColor":"#000","titleAlign":"right","titleBaseline":"top","titleY":5,"titlePadding":59,"labels":false,"ticks":false,"domain":false,"minExtent":0}}}}},
  {"facet":{"column":{"field":"d","type":"nominal","header":null}},"spacing":8,
   "transform":[{"filter":"datum.p == 'C'"}],
   "spec":{"width":160,"height":179,
    "layer":[
     {"transform":[{"filter":"isValid(datum.q1)"}],"mark":{"type":"rule","color":"#333","strokeWidth":0.9},
      "encoding":{"x":{"field":"t","type":"nominal","scale":{"domain":["DD","SD","DS","SS"],"paddingInner":0.25,"paddingOuter":0.225},"axis":{"title":null,"labelAngle":0}},
       "y":{"field":"lo","type":"quantitative","title":"Ek (μmol m⁻² s⁻¹)","scale":{"domain":[-20.4,421],"nice":false,"zero":false},"axis":{"values":[0,100,200,300,400],"titlePadding":7}},
       "y2":{"field":"hi"}}},
     {"transform":[{"filter":"isValid(datum.q1)"}],"mark":{"type":"bar","stroke":"#333","strokeWidth":0.8,"opacity":1},
      "encoding":{"x":{"field":"t","type":"nominal","title":null},
       "y":{"field":"q1","type":"quantitative","title":"Ek (μmol m⁻² s⁻¹)"},"y2":{"field":"q3"},
       "color":{"field":"t","type":"nominal","scale":{"domain":["DD","SD","DS","SS"],"range":["#7E4C8E","#6B91B1","#6FCB9D","#F7E45F"]},"legend":null}}},
     {"transform":[{"filter":"isValid(datum.q1)"}],"mark":{"type":"bar","filled":false,"stroke":"#333","strokeWidth":1.2},
      "encoding":{"x":{"field":"t","type":"nominal","title":null},"y":{"field":"m","type":"quantitative","title":"Ek (μmol m⁻² s⁻¹)"},"y2":{"field":"m"}}},
     {"transform":[{"filter":"isValid(datum.v)"},{"window":[{"op":"row_number","as":"rn"}],"groupby":["d","t"]},{"window":[{"op":"percent_rank","as":"pr"}],"sort":[{"field":"rn"}],"groupby":["d","t"]}],
      "mark":{"type":"circle","color":"#000","size":10,"opacity":1},
      "encoding":{"x":{"field":"t","type":"nominal","title":null},"xOffset":{"field":"pr","type":"quantitative","scale":{"domain":[0,1],"range":[3,25.6]}},"y":{"field":"v","type":"quantitative","title":"Ek (μmol m⁻² s⁻¹)"}}},
     {"transform":[{"filter":"isValid(datum.lab)"}],"mark":{"type":"text","fontSize":16,"color":"#555","baseline":"middle"},
      "encoding":{"x":{"field":"t","type":"nominal","title":null},"y":{"datum":310,"type":"quantitative"},"text":{"field":"lab"}}}
    ]}}
 ]},
{"spacing":0,
 "vconcat":[
  {"facet":{"column":{"field":"d","type":"nominal","header":null}},"spacing":8,
   "transform":[{"filter":"datum.p == 'D' && datum.t == 'DD' && isValid(datum.q1)"}],
   "spec":{"width":160,"height":30,"view":{"stroke":"#555","strokeWidth":1.2,"fill":"white"},
     "mark":{"type":"text","fontSize":14,"color":"#1a1a1a","baseline":"middle"},
     "encoding":{"text":{"field":"d","type":"nominal"},
      "y":{"datum":0.5,"type":"quantitative","scale":{"domain":[0,1]},"axis":{"title":"D","titleAngle":0,"titleFontWeight":"bold","titleFontSize":15,"titleColor":"#000","titleAlign":"right","titleBaseline":"top","titleY":5,"titlePadding":59,"labels":false,"ticks":false,"domain":false,"minExtent":0}}}}},
  {"facet":{"column":{"field":"d","type":"nominal","header":null}},"spacing":8,
   "transform":[{"filter":"datum.p == 'D'"}],
   "spec":{"width":160,"height":179,
    "layer":[
     {"transform":[{"filter":"isValid(datum.q1)"}],"mark":{"type":"rule","color":"#333","strokeWidth":0.9},
      "encoding":{"x":{"field":"t","type":"nominal","scale":{"domain":["DD","SD","DS","SS"],"paddingInner":0.25,"paddingOuter":0.225},"axis":{"title":null,"labelAngle":0}},
       "y":{"field":"lo","type":"quantitative","title":"ETRmax","scale":{"domain":[-7.5,162],"nice":false,"zero":false},"axis":{"values":[0,50,100,150],"titlePadding":12}},
       "y2":{"field":"hi"}}},
     {"transform":[{"filter":"isValid(datum.q1)"}],"mark":{"type":"bar","stroke":"#333","strokeWidth":0.8,"opacity":1},
      "encoding":{"x":{"field":"t","type":"nominal","title":null},
       "y":{"field":"q1","type":"quantitative","title":"ETRmax"},"y2":{"field":"q3"},
       "color":{"field":"t","type":"nominal","scale":{"domain":["DD","SD","DS","SS"],"range":["#7E4C8E","#6B91B1","#6FCB9D","#F7E45F"]},"legend":null}}},
     {"transform":[{"filter":"isValid(datum.q1)"}],"mark":{"type":"bar","filled":false,"stroke":"#333","strokeWidth":1.2},
      "encoding":{"x":{"field":"t","type":"nominal","title":null},"y":{"field":"m","type":"quantitative","title":"ETRmax"},"y2":{"field":"m"}}},
     {"transform":[{"filter":"isValid(datum.v)"},{"window":[{"op":"row_number","as":"rn"}],"groupby":["d","t"]},{"window":[{"op":"percent_rank","as":"pr"}],"sort":[{"field":"rn"}],"groupby":["d","t"]}],
      "mark":{"type":"circle","color":"#000","size":10,"opacity":1},
      "encoding":{"x":{"field":"t","type":"nominal","title":null},"xOffset":{"field":"pr","type":"quantitative","scale":{"domain":[0,1],"range":[3,25.6]}},"y":{"field":"v","type":"quantitative","title":"ETRmax"}}},
     {"transform":[{"filter":"isValid(datum.lab) && datum.d == '21'"}],"mark":{"type":"text","fontSize":16,"color":"#555","baseline":"middle"},
      "encoding":{"x":{"field":"t","type":"nominal","title":null},"y":{"datum":144,"type":"quantitative"},"text":{"field":"lab"}}},
     {"transform":[{"filter":"isValid(datum.lab) && datum.d == '35'"}],"mark":{"type":"text","fontSize":16,"color":"#555","baseline":"middle"},
      "encoding":{"x":{"field":"t","type":"nominal","title":null},"y":{"datum":154,"type":"quantitative"},"text":{"field":"lab"}}}
    ]}}
 ]}
]}
]
}
